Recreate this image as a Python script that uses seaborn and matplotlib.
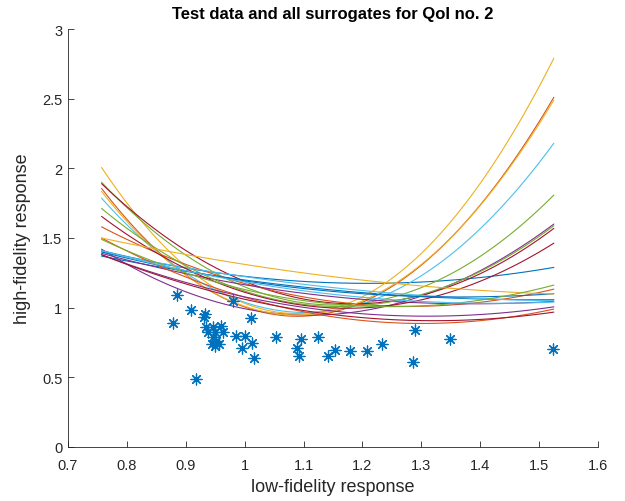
import numpy as np
import pandas as pd
import matplotlib
matplotlib.use("Agg")
import matplotlib.pyplot as plt
import seaborn as sns

# ---- data ----
# each surrogate curve: value at the left end, the middle and the right end
x_knots = [0.757, 1.141, 1.525]
left_vals = [1.41, 1.856, 2.006, 1.42, 1.90, 1.786, 1.89,
             1.37, 1.58, 1.834, 1.39, 1.712, 1.40, 1.655,
             1.40, 1.50, 1.50, 1.38, 1.49, 1.41, 1.38]
mid_vals = [1.18, 0.96, 0.985, 0.95, 1.02, 0.975, 1.037,
            1.13, 1.05, 0.97, 1.083, 1.01, 1.148, 1.0,
            1.12, 0.94, 1.227, 0.98, 1.03, 1.10, 0.955]
right_vals = [1.289, 2.51, 2.79, 1.60, 1.808, 2.18, 1.569,
              1.057, 1.133, 2.49, 1.045, 1.588, 1.05, 1.463,
              1.10, 0.99, 1.098, 1.006, 1.162, 1.04, 0.968]

test_x = [0.8845, 0.879, 0.909, 0.933, 0.931, 0.980, 1.011, 0.960, 0.935,
          0.946, 0.938, 0.950, 0.963, 0.947, 0.952, 0.944, 0.957, 0.950,
          0.985, 1.001, 0.995, 1.012, 1.016, 1.054, 1.096, 1.089, 1.092,
          0.917, 1.124, 1.142, 1.154, 1.179, 1.208, 1.234, 1.289, 1.286,
          1.348, 1.523]
test_y = [1.090, 0.890, 0.983, 0.954, 0.930, 1.050, 0.923, 0.870, 0.859,
          0.859, 0.827, 0.823, 0.823, 0.787, 0.763, 0.739, 0.739, 0.727,
          0.794, 0.794, 0.708, 0.744, 0.636, 0.787, 0.775, 0.708, 0.651,
          0.488, 0.791, 0.655, 0.698, 0.686, 0.686, 0.739, 0.839, 0.612,
          0.775, 0.703]

x_ticks = [0.7, 0.8, 0.9, 1.0, 1.1, 1.2, 1.3, 1.4, 1.5, 1.6]
x_tick_labels = ["0.7", "0.8", "0.9", "1", "1.1", "1.2", "1.3", "1.4", "1.5", "1.6"]
y_ticks = [0, 0.5, 1, 1.5, 2, 2.5, 3]
y_tick_labels = ["0", "0.5", "1", "1.5", "2", "2.5", "3"]

# ---- style ----
sns.set_theme(style="ticks")
plt.rcParams['font.family'] = ['Liberation Sans', 'DejaVu Sans']

palette = ["#0072BD", "#D95319", "#EDB120", "#7E2F8E",
           "#77AC30", "#4DBEEE", "#A2142F"]
axis_col = "#262626"

fig = plt.figure(figsize=(6.25, 5.02), dpi=100)
ax = fig.add_axes([68 / 625, 54 / 502, 530 / 625, 418 / 502])

for i, (l, m, r) in enumerate(zip(left_vals, mid_vals, right_vals)):
    sns.regplot(x=np.array(x_knots), y=np.array([l, m, r]), order=2,
                ci=None, scatter=False, truncate=True, ax=ax,
                line_kws=dict(color=palette[i % 7], lw=0.8))

sns.scatterplot(x=test_x, y=test_y, marker=(8, 2, 0), s=62,
                color="#0072BD", linewidth=0.9, ax=ax, zorder=5)

ax.set_xlim(0.7, 1.6)
ax.set_ylim(0, 3)
ax.set_xticks(x_ticks)
ax.set_xticklabels(x_tick_labels)
ax.set_yticks(y_ticks)
ax.set_yticklabels(y_tick_labels)

for s in ["top", "right"]:
    ax.spines[s].set_visible(False)
for s in ["left", "bottom"]:
    ax.spines[s].set_color(axis_col)
    ax.spines[s].set_linewidth(0.6)

ax.tick_params(direction="in", length=4, width=0.6, colors=axis_col,
               labelsize=10.5)
ax.tick_params(axis="x", pad=8)
ax.tick_params(axis="y", pad=4)

ax.set_xlabel("low-fidelity response", fontsize=13, color=axis_col, labelpad=4)
ax.set_ylabel("high-fidelity response", fontsize=13, color=axis_col, labelpad=8)
ax.set_title("Test data and all surrogates for QoI no. 2", fontsize=12,
             fontweight="bold", color="black", pad=8)

fig.savefig("out.png", dpi=100)
